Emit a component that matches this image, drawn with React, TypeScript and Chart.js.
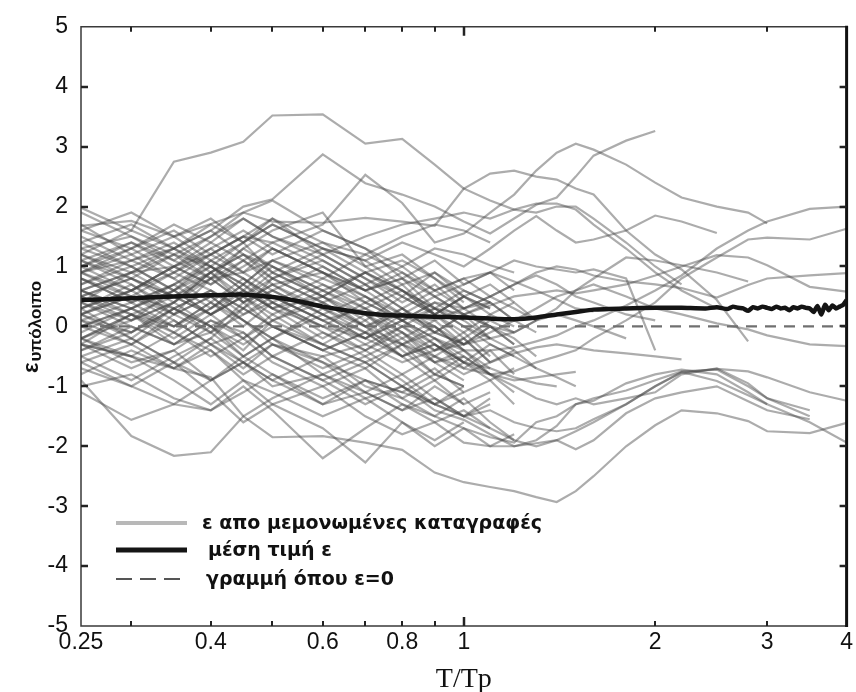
import { useEffect, useRef } from 'react';
import { Chart, registerables } from 'chart.js';

Chart.register(...registerables);

// Period grid (T/Tp) shared by the individual records
const T_GRID = [0.25, 0.3, 0.35, 0.4, 0.45, 0.5, 0.6, 0.7, 0.8, 0.9, 1.0, 1.1, 1.2, 1.3, 1.4, 1.5, 1.6, 1.8, 2.0, 2.2, 2.5, 2.8, 3.0, 3.5, 4.0];

// Long records
const recA = [1.98, 1.6, 2.75, 2.9, 3.08, 3.52, 3.54, 3.05, 3.13, 2.7, 2.3, 2.55, 2.6, 2.5, 2.45, 2.3, 2.2, 1.6, 1.2, 0.95, 0.44, -0.25];
const recL1 = [0.9, 1.1, 1.3, 1.6, 2.0, 2.12, 2.87, 2.39, 2.2, 2.0, 1.75, 1.55, 1.8, 2.03, 2.15, 2.5, 2.85, 3.1, 3.26];
const recL2 = [0.6, 0.9, 1.0, 1.2, 1.5, 1.4, 1.7, 2.53, 2.06, 1.4, 1.55, 1.9, 2.2, 2.6, 2.9, 3.05, 2.95, 2.7, 2.4, 2.15, 2.0, 1.9, 1.72];
const recR1 = [0.3, 0.6, 0.2, 0.8, 0.9, 1.1, 0.7, 0.4, 0.1, -0.2, -0.4, -0.4, -0.35, -0.25, -0.15, 0.0, 0.1, 0.35, 0.6, 0.85, 1.3, 1.6, 1.75, 1.96, 2.0];
const recR2 = [1.2, 0.8, 0.5, 0.9, 0.4, 0.6, 0.2, -0.1, -0.3, -0.5, -0.7, -0.8, -0.75, -0.6, -0.5, -0.4, -0.2, 0.1, 0.4, 0.8, 1.15, 1.45, 1.48, 1.45, 1.63];
const recR3 = [0.4, 0.1, 0.6, 1.0, 0.7, 0.3, 0.5, 0.0, 0.2, 0.1, 0.3, 0.5, 0.7, 0.9, 1.0, 0.95, 0.85, 0.75, 0.7, 0.64, 0.48, 0.69, 0.8, 0.85, 0.89];
const recR4 = [0.2, 0.5, 0.3, -0.1, 0.2, 0.4, 0.0, -0.2, 0.1, 0.3, 0.2, 0.35, 0.5, 0.55, 0.6, 0.55, 0.6, 0.7, 0.85, 1.0, 1.19, 1.15, 1.02, 0.66, 0.58];
const recR5 = [-0.3, 0.2, 0.0, 0.4, 0.1, -0.3, -0.5, -0.3, -0.6, -0.4, -0.3, -0.1, 0.1, 0.3, 0.5, 0.6, 0.7, 0.5, 0.3, 0.2, 0.05, -0.05, -0.15, -0.3, -0.33];
const recR6 = [-0.2, -0.6, -0.4, -0.9, -0.6, -1.0, -0.8, -1.2, -1.0, -1.3, -1.5, -1.4, -1.6, -1.7, -1.75, -1.7, -1.55, -1.3, -1.0, -0.77, -0.71, -0.75, -0.85, -1.1, -1.24];
const recLC = [-0.3, -0.5, -0.7, -0.85, -1.5, -1.85, -1.83, -1.94, -2.06, -2.44, -2.6, -2.68, -2.75, -2.85, -2.93, -2.75, -2.5, -2.0, -1.65, -1.4, -1.45, -1.58, -1.75, -1.78, -1.61];
const recR8 = [0.6, 0.2, -0.3, -0.1, -0.5, -0.2, -0.6, -0.9, -1.1, -1.3, -1.5, -1.7, -1.9, -2.0, -1.9, -1.75, -1.6, -1.3, -1.0, -0.76, -0.91, -1.15, -1.3, -1.6, -1.94];
const recR9 = [0.9, 0.5, 0.2, 0.5, 0.1, -0.2, 0.2, -0.2, -0.5, -0.3, -0.6, -0.8, -1.0, -1.2, -1.3, -1.2, -1.3, -1.2, -1.1, -0.8, -0.7, -0.95, -1.2, -1.5];

// Medium records
const recM01 = [1.4, 1.0, 1.3, 1.7, 1.4, 1.8, 1.4, 1.2, 1.5, 1.7, 1.6, 1.4];
const recM02 = [0.9, 1.3, 1.6, 1.2, 1.5, 1.2, 1.6, 1.3, 1.0, 1.3, 1.2, 1.02, 0.9];
const recM03 = [0.5, 0.8, 1.2, 1.0, 1.4, 1.7, 1.3, 1.1, 1.4, 1.2, 1.0, 1.3, 1.6, 1.84, 1.6, 1.4, 1.45, 1.6, 1.85, 1.75, 1.56];
const recM04 = [0.2, 0.6, 1.0, 0.7, 1.0, 1.3, 0.9, 0.6, 0.8, 0.5, 0.7, 0.9, 1.1, 1.0, 0.95, 0.9, 0.95, 0.8, -0.4];
const recM05 = [-0.2, 0.2, 0.5, 0.2, -0.2, 0.1, 0.4, 0.0, -0.3, -0.1, 0.2, 0.0, -0.1, 0.1, 0.3, 0.6, 0.8, 1.15, 1.1, 1.02, 0.9, 0.75];
const recM06 = [0.8, 0.4, 0.7, 1.1, 0.8, 0.5, 0.1, 0.3, 0.0, 0.3, 0.0, -0.3, -0.5, -0.7, -0.85, -1.0];
const recM07 = [0.2, -0.1, 0.3, 0.6, 0.3, 0.0, -0.4, -0.1, -0.5, -0.3, -0.6, -0.7, -0.85, -0.95, -1.0];
const recM08 = [-0.4, -0.1, 0.3, 0.0, -0.3, 0.0, -0.3, -0.6, -0.3, -0.6, -0.5, -0.8, -0.9, -0.85, -0.8, -0.76];
const recM09 = [-0.2, -0.5, -0.1, -0.4, -0.8, -0.5, -0.9, -1.3, -1.0, -1.4, -1.56, -1.8, -2.0, -1.9, -1.66, -1.3, -1.24, -0.95, -0.8, -0.72, -0.8, -1.1, -1.3];
const recM10 = [0.1, -0.3, -0.7, -0.4, -0.9, -1.3, -1.0, -1.5, -1.8, -1.6, -1.94, -2.0, -2.0, -1.95, -1.9, -2.05, -1.9, -1.45, -1.2, -1.1, -1.0, -1.25, -1.4, -1.55];
const recM11 = [0.0, 0.3, -0.1, -0.5, -0.2, -0.6, -1.0, -0.7, -1.2, -1.5, -1.7, -1.85, -1.94, -1.6, -1.5, -1.3, -1.2, -1.07, -0.9, -0.75, -0.72, -1.0, -1.2, -1.4];
const recM12 = [1.0, 1.4, 1.1, 1.5, 1.8, 1.5, 1.2, 1.5, 1.7, 1.8, 1.9, 1.8, 1.95, 2.05, 2.05, 1.95, 1.7, 1.3, 0.9, 0.6, 0.3];
const recM13 = [0.5, 0.1, 0.4, 0.0, 0.3, 0.6, 0.2, 0.5, 0.1, 0.4, 0.3, 0.5, 0.7, 0.85, 0.7, 0.5, 0.4, 0.2, 0.1];
const recM14 = [1.1, 1.4, 1.0, 0.7, 1.1, 0.8, 0.4, 0.0, 0.3, 0.6, 0.8, 0.9, 0.75, 0.6, 0.45, 0.3, 0.25];
const recM15 = [-0.5, -0.9, -0.5, -0.2, -0.6, -0.3, -0.7, -0.4, -0.8, -0.5, -0.8, -0.6, -0.45, -0.35, -0.3, -0.35, -0.4, -0.45, -0.5, -0.55];
const recM16 = [0.6, 0.3, 0.0, 0.4, 0.8, 0.5, 0.1, -0.2, 0.2, -0.1, -0.3, -0.2, -0.1, 0.1, 0.2, 0.1, 0.0, -0.2];
const recU1 = [1.68, 1.76, 1.5, 1.71, 1.9, 1.75, 1.73, 1.81, 1.75, 1.68, 2.3, 2.1, 1.95, 1.9, 2.0, 2.0, 1.8, 1.4, 1.0, 0.7];

// Low outliers on the left
const recO1 = [-0.9, -1.83, -2.16, -2.1, -1.5, -1.2, -0.8, -1.1, -1.4, -1.2, -1.5, -1.3];
const recO2 = [-1.1, -1.56, -1.3, -0.9, -0.6, -0.9, -1.3, -0.9, -1.1, -0.8, -1.0];
const recO3 = [-0.6, -1.0, -1.3, -1.4, -1.0, -1.4, -2.2, -1.7, -1.3, -1.5, -1.2, -1.6, -1.9];
const recO4 = [0.3, -0.2, -0.6, -1.1, -1.6, -1.3, -1.7, -2.27, -1.6, -1.9, -1.6];
const recO5 = [-0.3, -0.5, -0.9, -1.3, -0.9, -1.1, -1.5, -1.2, -1.6, -2.0, -1.7, -2.0, -1.8];

// Short records (dense band)
const recS01 = [1.6, 1.3, 0.9, 1.2, 1.5, 1.8, 1.2, 0.8, 0.5, 0.9, 0.6, 0.4];
const recS02 = [1.3, 1.5, 1.1, 0.8, 1.3, 1.6, 1.9, 1.0, 0.6, 0.3, 0.1];
const recS03 = [0.9, 0.6, 1.0, 1.4, 1.1, 0.7, 0.9, 0.4, 0.7, 0.2, -0.1, 0.2, 0.0];
const recS04 = [0.5, 0.8, 0.4, 0.9, 1.2, 1.0, 0.5, 0.2, -0.2, 0.1, -0.3];
const recS05 = [0.2, 0.5, 0.9, 0.6, 0.3, 0.8, 1.1, 0.7, 0.3, -0.1, 0.2, -0.2, -0.4];
const recS06 = [-0.2, 0.1, 0.4, 0.9, 1.3, 1.0, 0.6, 0.9, 0.5, 0.2, 0.5, 0.3];
const recS07 = [1.1, 0.7, 0.3, 0.6, 0.2, 0.5, 0.1, -0.3, 0.0, -0.4, -0.2, -0.6];
const recS08 = [0.7, 1.1, 1.4, 1.0, 0.6, 0.3, -0.2, 0.2, -0.1, -0.6, -0.9];
const recS09 = [1.9, 1.5, 1.2, 0.8, 1.1, 1.4, 1.0, 0.6, 0.8, 0.3, 0.0, -0.2];
const recS10 = [0.0, -0.3, 0.2, 0.5, 0.1, -0.2, 0.3, 0.0, -0.5, -0.2, -0.6, -0.9, -0.7];
const recS11 = [-0.5, -0.2, -0.6, -0.2, 0.3, 0.0, -0.4, -0.7, -0.3, -0.8, -1.0];
const recS12 = [0.4, 0.0, -0.3, 0.1, -0.2, 0.2, -0.3, -0.6, -1.0, -0.7, -1.1, -0.9, -1.3];
const recS13 = [1.4, 1.7, 1.3, 1.6, 1.2, 0.9, 1.3, 1.1, 0.7, 0.9, 0.5, 0.7, 0.4];
const recS14 = [0.8, 0.4, 0.7, 0.3, 0.7, 1.1, 0.8, 1.2, 0.9, 0.6, 0.8, 0.5, 0.3, 0.1];
const recS15 = [-0.8, -0.4, -0.7, -0.3, -0.6, -0.9, -0.5, -1.0, -1.2, -0.9, -1.3];
const recS16 = [1.0, 1.3, 1.7, 1.4, 1.8, 1.5, 1.1, 0.7, 1.0, 0.6, 0.3, 0.4];
const recS17 = [0.3, 0.7, 0.2, -0.1, 0.4, 0.7, 0.3, -0.1, 0.3, 0.0, -0.3, 0.0, -0.2, -0.5];
const recS18 = [1.2, 0.9, 1.3, 1.0, 0.6, 1.0, 0.6, 0.3, -0.1, -0.4, -0.1, -0.5];
const recS19 = [-0.3, -0.7, -0.4, 0.0, -0.5, -0.2, -0.8, -0.5, -0.9, -1.3, -1.0];
const recS20 = [0.6, 0.3, 0.6, 1.1, 0.8, 0.4, 0.0, 0.4, 0.1, -0.3, -0.6, -0.3, -0.5];
const recS21 = [1.7, 1.2, 1.5, 1.1, 1.4, 0.9, 0.5, 0.9, 0.6, 0.2, 0.5, 0.3];
const recS22 = [0.1, 0.4, 0.0, 0.3, 0.7, 0.4, -0.1, -0.5, -0.2, -0.6, -0.4, -0.8, -1.1];
const recS23 = [0.9, 1.2, 0.8, 0.4, 0.0, 0.4, 0.8, 0.5, 0.1, 0.4, 0.1, -0.2];
const recS24 = [-0.6, -0.3, 0.1, -0.3, -0.7, -0.3, -0.6, -1.1, -0.8, -1.2, -1.5, -1.2];
const recS25 = [0.5, 0.2, -0.2, 0.2, 0.5, 0.2, 0.6, 0.2, -0.3, 0.0, -0.4, -0.7];
const recS26 = [1.5, 1.1, 0.8, 1.2, 0.9, 1.3, 0.9, 0.5, 0.2, 0.5, 0.2, 0.0, -0.3];
const recS27 = [0.2, -0.2, 0.3, 0.0, -0.4, 0.1, -0.3, 0.1, -0.4, -0.8, -0.5];
const recS28 = [1.0, 0.6, 0.9, 1.3, 1.6, 1.3, 0.9, 0.6, 0.2, 0.0, -0.4];
const recS29 = [-0.1, 0.3, 0.6, 0.2, 0.5, 0.9, 0.5, 0.1, 0.5, 0.2, -0.2, 0.1, -0.1];
const recS30 = [0.7, 1.0, 0.6, 0.9, 0.5, 0.1, 0.5, 0.9, 0.6, 0.3, 0.6, 0.4, 0.1];
const recS31 = [-1.0, -0.8, -1.2, -1.4, -1.1, -0.8, -1.3, -1.1, -1.4, -1.0, -1.3, -1.1];
const recS32 = [0.4, 0.9, 1.2, 1.5, 1.9, 2.1, 1.6, 1.3, 0.8, 1.1, 0.7, 0.9, 0.6];
const recS33 = [1.1, 0.8, 0.5, 0.8, 0.4, 0.0, -0.4, -0.1, -0.5, -0.9, -0.6];
const recS34 = [0.0, 0.3, 0.7, 1.0, 0.7, 1.1, 1.4, 1.0, 1.2, 0.8, 0.4];
const recS35 = [-0.4, 0.0, -0.3, 0.1, -0.1, -0.5, -0.1, -0.4, 0.0, -0.3, -0.7, -0.4, -0.8];
const recS36 = [1.3, 1.0, 0.6, 0.2, 0.5, 0.8, 0.4, 0.7, 0.3, -0.1, -0.3, 0.0, -0.3];
const recS37 = [0.8, 0.5, 0.1, -0.3, -0.1, -0.5, -0.9, -0.6, -1.0, -1.3, -1.1];
const recS38 = [0.3, 0.6, 1.0, 1.3, 0.9, 0.6, 1.0, 0.6, 0.9, 0.5, 0.2, 0.4, 0.1, -0.1];
const recS39 = [1.6, 1.9, 1.5, 1.8, 1.4, 1.7, 1.3, 0.9, 1.1, 0.8, 0.5];
const recS40 = [-0.7, -1.0, -0.6, -0.9, -0.5, -0.8, -1.2, -0.9, -1.3, -1.6, -1.4, -1.7];
const recS41 = [0.6, 0.9, 0.5, 0.2, 0.6, 0.3, 0.7, 0.3, 0.6, 0.2, 0.5, 0.2, 0.4, 0.1];
const recS42 = [0.1, -0.1, 0.4, 0.8, 0.4, 0.7, 0.2, -0.2, 0.1, -0.2, -0.5, -0.8];
const recS43 = [1.2, 1.6, 1.3, 0.9, 1.2, 0.8, 1.2, 0.8, 0.4, 0.7, 0.3, 0.0];
const recS44 = [-0.2, 0.2, -0.1, 0.3, 0.6, 0.3, 0.0, -0.4, -0.1, -0.5, -0.2, -0.6, -0.4, -0.7];

const RECORDS = [
  recA, recL1, recL2, recR1, recR2, recR3, recR4, recR5, recR6, recLC, recR8, recR9,
  recM01, recM02, recM03, recM04, recM05, recM06, recM07, recM08, recM09, recM10, recM11, recM12, recM13, recM14, recM15, recM16, recU1,
  recO1, recO2, recO3, recO4, recO5,
  recS01, recS02, recS03, recS04, recS05, recS06, recS07, recS08, recS09, recS10, recS11, recS12, recS13, recS14, recS15,
  recS16, recS17, recS18, recS19, recS20, recS21, recS22, recS23, recS24, recS25, recS26, recS27, recS28, recS29, recS30,
  recS31, recS32, recS33, recS34, recS35, recS36, recS37, recS38, recS39, recS40, recS41, recS42, recS43, recS44,
];

// Mean residual
const MEAN_T = [0.25, 0.3, 0.35, 0.4, 0.45, 0.5, 0.55, 0.6, 0.65, 0.7, 0.75, 0.8, 0.9, 1.0, 1.1, 1.2, 1.3, 1.4, 1.5, 1.6, 1.8, 2.0, 2.2, 2.4, 2.5, 2.6, 2.65, 2.7, 2.75, 2.8, 2.85, 2.9, 2.95, 3.0, 3.05, 3.1, 3.15, 3.2, 3.25, 3.3, 3.35, 3.4, 3.45, 3.5, 3.55, 3.6, 3.65, 3.7, 3.75, 3.8, 3.85, 3.9, 3.95, 4.0];
const MEAN_E = [0.44, 0.47, 0.5, 0.52, 0.53, 0.49, 0.42, 0.33, 0.27, 0.22, 0.19, 0.18, 0.16, 0.15, 0.13, 0.12, 0.15, 0.2, 0.24, 0.28, 0.3, 0.31, 0.31, 0.3, 0.32, 0.29, 0.33, 0.31, 0.3, 0.26, 0.32, 0.3, 0.33, 0.31, 0.29, 0.33, 0.3, 0.31, 0.27, 0.32, 0.3, 0.33, 0.31, 0.3, 0.24, 0.34, 0.2, 0.36, 0.27, 0.35, 0.3, 0.33, 0.36, 0.44];

// Zero reference line
const ZERO_T = [0.25, 4];
const ZERO_E = [0, 0];

// Axis ticks
const X_LABELS = [0.25, 0.4, 0.6, 0.8, 1, 2, 3, 4];
const X_MINOR = [0.3, 0.4, 0.5, 0.6, 0.7, 0.8, 0.9, 2, 3];
const X_MAJOR = [1];
const Y_TICKS = [-4, -3, -2, -1, 0, 1, 2, 3, 4];

// Texts
const LEGEND_LABELS = ['ε απο μεμονωμένες καταγραφές', 'μέση τιμή ε', 'γραμμή όπου ε=0'];
const Y_TITLE_MAIN = 'ε';
const Y_TITLE_SUB = 'υπόλοιπο';
const X_TITLE = 'T/Tp';

const TICK_FONT = { family: '"Liberation Sans", Arial, sans-serif', size: 23 };

const decorPlugin = {
  id: 'decor',
  afterDraw(chart: any) {
    const { ctx, chartArea, scales } = chart;
    const { left, right, top, bottom } = chartArea;
    const xs = scales.x;
    const ys = scales.y;
    ctx.save();
    // frame
    ctx.strokeStyle = '#3a3a3a';
    ctx.lineWidth = 1.5;
    ctx.beginPath();
    ctx.moveTo(right, top);
    ctx.lineTo(left, top);
    ctx.lineTo(left, bottom);
    ctx.lineTo(right, bottom);
    ctx.stroke();
    ctx.strokeStyle = '#111';
    ctx.lineWidth = 3;
    ctx.beginPath();
    ctx.moveTo(right, top - 1);
    ctx.lineTo(right, bottom + 1);
    ctx.stroke();
    // inner ticks
    ctx.strokeStyle = '#222';
    ctx.lineWidth = 2;
    for (const v of X_MINOR) {
      const px = Math.round(xs.getPixelForValue(v));
      ctx.beginPath();
      ctx.moveTo(px, bottom);
      ctx.lineTo(px, bottom - 5);
      ctx.moveTo(px, top);
      ctx.lineTo(px, top + 5);
      ctx.stroke();
    }
    ctx.lineWidth = 2.5;
    for (const v of X_MAJOR) {
      const px = Math.round(xs.getPixelForValue(v));
      ctx.beginPath();
      ctx.moveTo(px, bottom);
      ctx.lineTo(px, bottom - 9);
      ctx.moveTo(px, top);
      ctx.lineTo(px, top + 9);
      ctx.stroke();
    }
    for (const v of Y_TICKS) {
      const py = Math.round(ys.getPixelForValue(v));
      ctx.beginPath();
      ctx.moveTo(left, py);
      ctx.lineTo(left + 7, py);
      ctx.moveTo(right, py);
      ctx.lineTo(right - 7, py);
      ctx.stroke();
    }
    // x title
    ctx.fillStyle = '#111';
    ctx.font = '28px "Liberation Serif", "Times New Roman", serif';
    ctx.textAlign = 'center';
    ctx.textBaseline = 'alphabetic';
    ctx.fillText(X_TITLE, (left + right) / 2, 687);
    // y title
    ctx.translate(38, 373);
    ctx.rotate(-Math.PI / 2);
    ctx.textAlign = 'left';
    ctx.font = 'bold 22px "Liberation Sans", Arial, sans-serif';
    ctx.fillText(Y_TITLE_MAIN, 0, 0);
    const w = ctx.measureText(Y_TITLE_MAIN).width;
    ctx.font = 'bold 17px "Liberation Sans", Arial, sans-serif';
    ctx.fillText(Y_TITLE_SUB, w + 1, 3);
    ctx.restore();

    // legend
    ctx.save();
    const rows = [523, 550, 579];
    const lx0 = 116;
    const lx1 = 187;
    ctx.lineCap = 'butt';
    ctx.strokeStyle = '#b8b8b8';
    ctx.lineWidth = 4;
    ctx.beginPath();
    ctx.moveTo(lx0, rows[0]);
    ctx.lineTo(lx1, rows[0]);
    ctx.stroke();
    ctx.strokeStyle = '#151515';
    ctx.lineWidth = 5;
    ctx.beginPath();
    ctx.moveTo(lx0, rows[1]);
    ctx.lineTo(lx1, rows[1]);
    ctx.stroke();
    ctx.strokeStyle = '#555';
    ctx.lineWidth = 2;
    ctx.setLineDash([16, 8]);
    ctx.beginPath();
    ctx.moveTo(lx0, rows[2]);
    ctx.lineTo(lx1 - 3, rows[2]);
    ctx.stroke();
    ctx.setLineDash([]);
    ctx.fillStyle = '#111';
    ctx.font = 'bold 19px "DejaVu Sans", Verdana, sans-serif';
    ctx.textBaseline = 'middle';
    ctx.textAlign = 'left';
    ctx.fillText(LEGEND_LABELS[0], 202, rows[0] + 1);
    ctx.fillText(LEGEND_LABELS[1], 208, rows[1] + 1);
    ctx.fillText(LEGEND_LABELS[2], 206, rows[2] + 1);
    ctx.restore();
  },
};

export default function App() {
  const ref = useRef<HTMLCanvasElement | null>(null);
  useEffect(() => {
    if (!ref.current) return;
    const grayDatasets = RECORDS.map((rec) => ({
      data: rec.map((e, i) => ({ x: T_GRID[i], y: e })),
      borderColor: 'rgba(70,70,70,0.45)',
      borderWidth: 2.2,
      pointRadius: 0,
      tension: 0,
      fill: false,
    }));
    const chart = new Chart(ref.current, {
      type: 'line',
      data: {
        datasets: [
          {
            data: MEAN_T.map((t, i) => ({ x: t, y: MEAN_E[i] })),
            borderColor: '#141414',
            borderWidth: 4.5,
            pointRadius: 0,
            tension: 0.2,
            fill: false,
          },
          {
            data: ZERO_T.map((t, i) => ({ x: t, y: ZERO_E[i] })),
            borderColor: '#707070',
            borderWidth: 2.2,
            borderDash: [11, 8],
            pointRadius: 0,
            fill: false,
          },
          ...grayDatasets,
        ],
      },
      options: {
        animation: false,
        responsive: false,
        maintainAspectRatio: false,
        events: [],
        layout: { padding: { left: 0, right: 5, top: 19, bottom: 0 } },
        plugins: { legend: { display: false }, tooltip: { enabled: false } },
        scales: {
          x: {
            type: 'logarithmic',
            min: 0.25,
            max: 4,
            afterBuildTicks: (s: any) => {
              s.ticks = X_LABELS.map((v) => ({ value: v }));
            },
            afterFit: (s: any) => {
              s.height = 66;
            },
            ticks: {
              autoSkip: false,
              maxRotation: 0,
              minRotation: 0,
              padding: 3,
              color: '#111',
              font: TICK_FONT,
              callback: (v: any) => String(v),
            },
            grid: { display: false, drawTicks: false },
            border: { display: false },
          },
          y: {
            min: -5,
            max: 5,
            afterFit: (s: any) => {
              s.width = 81;
            },
            ticks: {
              stepSize: 1,
              padding: 13,
              color: '#111',
              font: TICK_FONT,
            },
            grid: { display: false, drawTicks: false },
            border: { display: false },
          },
        },
      },
      plugins: [decorPlugin],
    } as any);
    return () => chart.destroy();
  }, []);
  return (
    <div style={{ position: 'fixed', left: 0, top: 0, width: 856, height: 692, background: '#fff' }}>
      <canvas ref={ref} width={856} height={692} style={{ width: 856, height: 692, display: 'block' }} />
    </div>
  );
}
